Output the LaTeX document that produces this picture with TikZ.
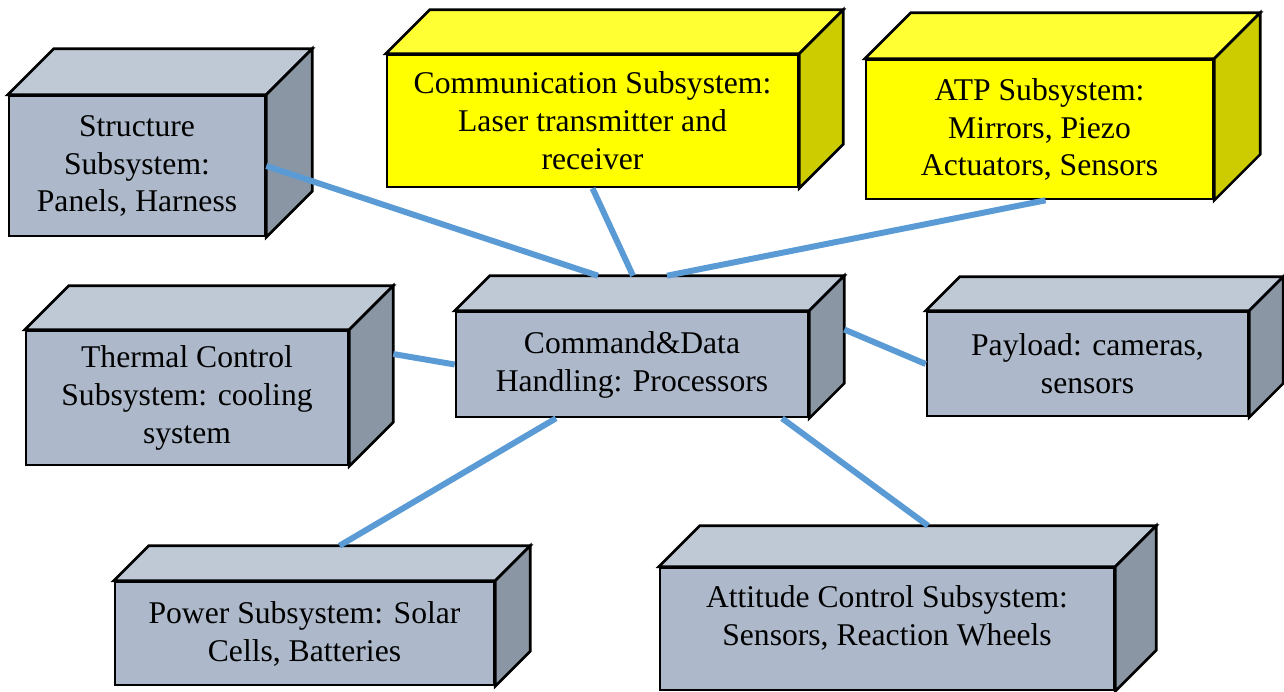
\documentclass[tikz,border=0pt]{standalone}
\usepackage{fontspec}
\setmainfont{Liberation Serif}
\usetikzlibrary{calc}

\definecolor{frontgray}{RGB}{173,185,202}
\definecolor{topgray}{RGB}{191,201,214}
\definecolor{sidegray}{RGB}{138,150,164}
\definecolor{frontyel}{RGB}{255,255,0}
\definecolor{topyel}{RGB}{255,255,51}
\definecolor{sideyel}{RGB}{204,204,0}
\definecolor{linkblue}{RGB}{91,155,213}

\begin{document}
\begin{tikzpicture}[x=0.02cm, y=-0.02cm,
        box/.style={draw, line width=1.5pt, align=center, inner sep=0pt, font=\fontsize{18}{21.6}\selectfont},
        face/.style={draw, line width=1.5pt},
        link/.style={linkblue, line width=3.4pt}]
            \useasboundingbox (0,0) rectangle (1284,691);

            \node (str)[box, fill=frontgray, minimum width=5.12cm, minimum height=2.8cm] at (137,166) {Structure \\ Subsystem: \\ Panels, Harness};
            \node (com)[box, fill=frontyel, minimum width=8.22cm, minimum height=2.64cm] at (592.5,121) {Communication Subsystem: \\ Laser transmitter and \\ receiver};
            \node (atp)[box, fill=frontyel, minimum width=6.94cm, minimum height=2.78cm] at (1039.5,129.5) {ATP Subsystem: \\ Mirrors, Piezo \\ Actuators, Sensors};
            \node (thm)[box, fill=frontgray, minimum width=6.44cm, minimum height=2.68cm] at (187,398) {Thermal Control \\ Subsystem: cooling \\ system};
            \node (cdh)[box, fill=frontgray, minimum width=7.04cm, minimum height=2.1cm] at (632,364.5) {Command\&Data \\ Handling: Processors};
            \node (pay)[box, fill=frontgray, minimum width=6.42cm, minimum height=2.08cm] at (1087.5,364) {Payload: cameras, \\ sensors};
            \node (pow)[box, fill=frontgray, minimum width=7.58cm, minimum height=2.06cm] at (304.5,633.5) {Power Subsystem: Solar \\ Cells, Batteries};
            \node (att)[box, fill=frontgray, minimum width=9.08cm, minimum height=2.44cm, text depth=0.55cm] at (887,629) {Attitude Control Subsystem: \\ Sensors, Reaction Wheels};

            % top and side faces of the boxes
            \foreach \n/\d/\c in {str/46/gray, com/44/yel, atp/46/yel, thm/44/gray, cdh/35/gray, pay/34/gray, pow/35/gray, att/41/gray} {
                \draw[face, fill=top\c] (\n.north west) -- ++(\d,-\d) -- ($(\n.north east)+(\d,-\d)$) -- (\n.north east) -- cycle;
                \draw[face, fill=side\c] (\n.north east) -- ++(\d,-\d) -- ($(\n.south east)+(\d,-\d)$) -- (\n.south east) -- cycle;
                \coordinate (\n-top) at ($(\n.north)+(\d,-\d)$);
                \coordinate (\n-side) at ($(\n.east)+(\d,-\d)$);
            }

            \draw[link] (str.east) -- ($(cdh-top)+(-69,0)$);
            \draw[link] (com.south) -- ($(cdh-top)+(-34,0)$);
            \draw[link] ($(atp.south)+(6,0)$) -- (cdh-top);
            \draw[link] (thm-side) -- (cdh.west);
            \draw[link] (cdh-side) -- (pay.west);
            \draw[link] (pow-top) -- ($(cdh.south)+(-76,0)$);
            \draw[link] ($(cdh.south)+(150,0)$) -- (att-top);
    \end{tikzpicture}
\end{document}
